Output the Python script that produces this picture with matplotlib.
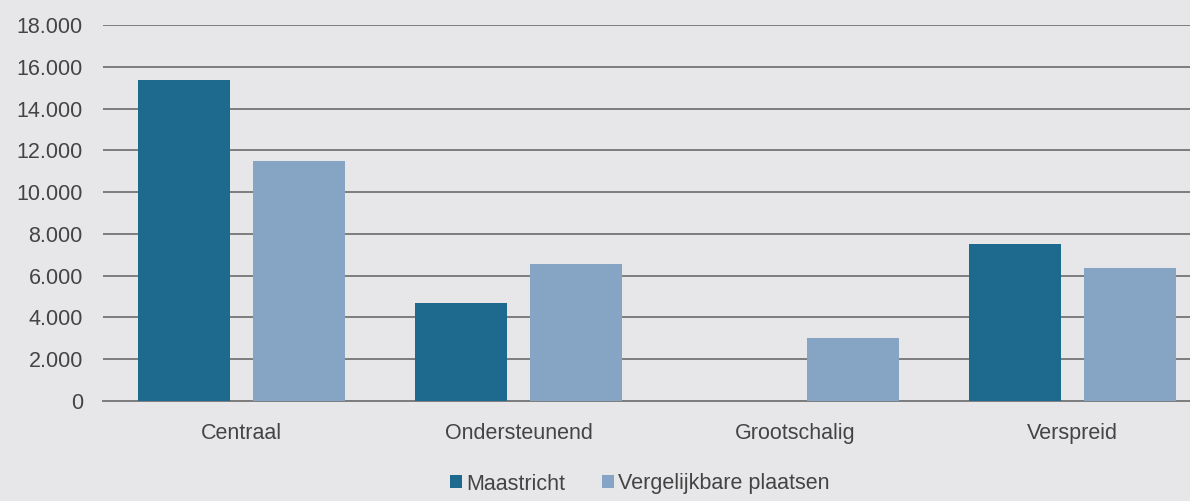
import matplotlib
matplotlib.use("Agg")
import matplotlib.pyplot as plt
import numpy as np

categories = ["Centraal", "Ondersteunend", "Grootschalig", "Verspreid"]
maastricht = [15350, 4700, 0, 7500]
vergelijkbaar = [11500, 6550, 3000, 6350]
series_names = ["Maastricht", "Vergelijkbare plaatsen"]
yticks = [0, 2000, 4000, 6000, 8000, 10000, 12000, 14000, 16000, 18000]
ytick_labels = ["0", "2.000", "4.000", "6.000", "8.000", "10.000", "12.000", "14.000", "16.000", "18.000"]

plt.rcParams['font.family'] = ['Liberation Sans', 'DejaVu Sans']
bg = "#e7e7e9"
fig = plt.figure(figsize=(11.9, 5.01), dpi=100, facecolor=bg)
ax = fig.add_axes([103/1190, 1 - 401/501, 1108/1190, 376/501], facecolor=bg)

x = np.arange(len(categories))
w = 0.33
b1 = ax.bar(x - 0.207, maastricht, w, color="#1e6a8e", zorder=3, label=series_names[0])
b2 = ax.bar(x + 0.207, vergelijkbaar, w, color="#86a5c4", zorder=3, label=series_names[1])

ax.set_xlim(-0.5, 3.5)
ax.set_ylim(0, 18000)
ax.set_yticks(yticks)
ax.set_yticklabels(ytick_labels)
ax.set_xticks(x)
ax.set_xticklabels(categories)
ax.yaxis.grid(True, color="#7d7d7d", linewidth=1.4, zorder=0)
ax.set_axisbelow(True)
for s in ["top", "right", "left"]:
    ax.spines[s].set_visible(False)
ax.spines["bottom"].set_color("#7d7d7d")
ax.spines["bottom"].set_linewidth(1.4)
ax.tick_params(axis="y", length=0, pad=14.5, labelsize=15.5, labelcolor="#444444")
ax.tick_params(axis="x", length=0, pad=16, labelsize=15.5, labelcolor="#444444")

leg = fig.legend(handles=[b1, b2], labels=series_names, loc="center",
                 bbox_to_anchor=(640/1190, 1 - 484/501), ncol=2, frameon=False,
                 fontsize=15.5, handlelength=0.55, handleheight=0.55,
                 handletextpad=0.2, columnspacing=1.7)
for t in leg.get_texts():
    t.set_color("#444444")

fig.savefig("out.png", dpi=100, facecolor=bg)
